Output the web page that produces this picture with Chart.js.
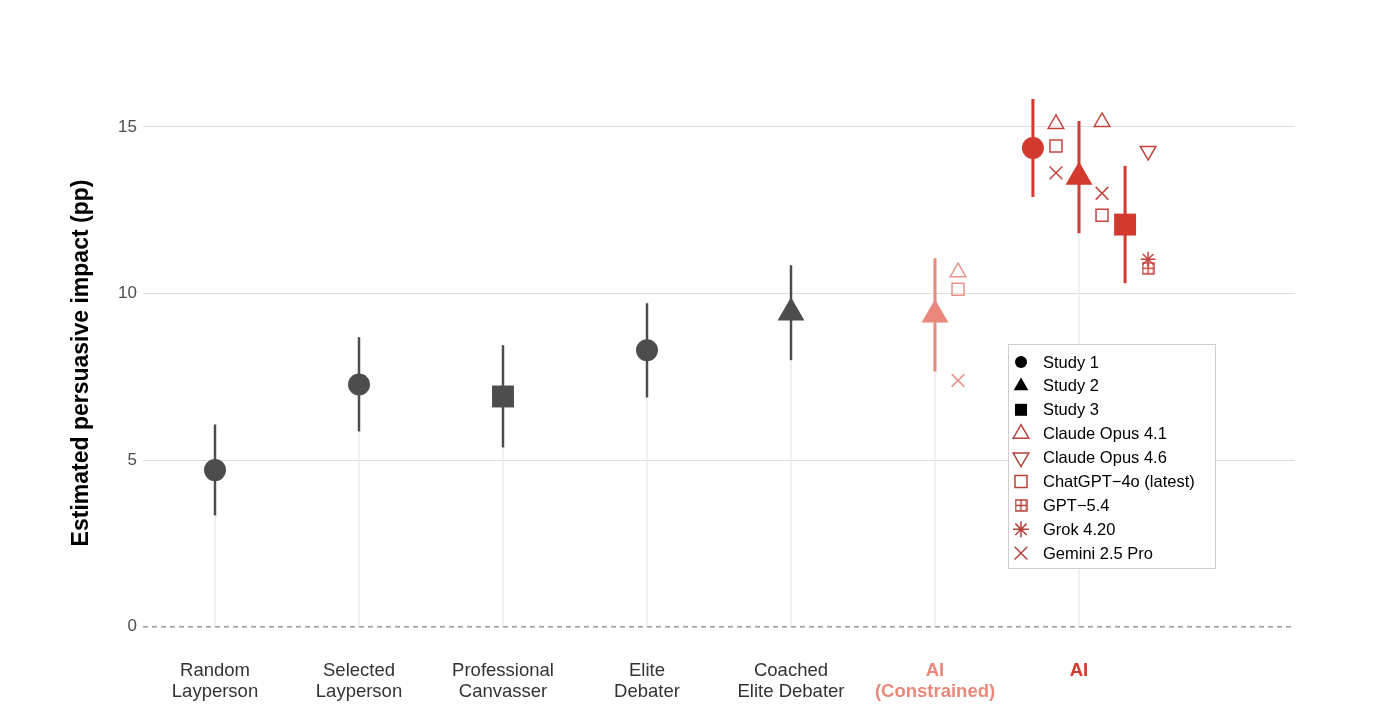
<!DOCTYPE html>
<html>
<head>
<meta charset="utf-8">
<script src="https://cdn.jsdelivr.net/npm/chart.js@4"></script>
<style>
  html, body { margin: 0; padding: 0; background: #fff; }
  #wrap { width: 1374px; height: 714px; }
</style>
</head>
<body>
<div id="wrap"><canvas id="myChart"></canvas></div>
<script>
// Categories on the x axis
const categories = [
  ["Random", "Layperson"],
  ["Selected", "Layperson"],
  ["Professional", "Canvasser"],
  ["Elite", "Debater"],
  ["Coached", "Elite Debater"],
  ["AI", "(Constrained)"],
  ["AI"],
];

// Pooled estimates (one per category / study)
const pointCat   = [1, 2, 3, 4, 5, 6, 7, 7, 7];
const pointStudy = [1, 1, 3, 1, 2, 2, 1, 2, 3];
const pointEst   = [4.70, 7.27, 6.91, 8.30, 9.42, 9.36, 14.37, 13.50, 12.07];
const pointLo    = [3.34, 5.86, 5.38, 6.88, 8.00, 7.66, 12.90, 11.81, 10.31];
const pointHi    = [6.07, 8.69, 8.45, 9.71, 10.85, 11.06, 15.84, 15.18, 13.83];
const stemTop    = [4.70, 7.27, 6.91, 8.30, 9.42, 9.36, 13.50];

// Model results per slot: [AI (Constrained) Study 2, AI Study 1, AI Study 2, AI Study 3]
const slotCat   = [6, 7, 7, 7];
const slotStudy = [2, 1, 2, 3];
const modelNames = ["Claude Opus 4.1", "Claude Opus 4.6", "ChatGPT−4o (latest)", "GPT−5.4", "Grok 4.20", "Gemini 2.5 Pro"];
const claudeOpus41 = [10.64, 15.09, 15.15, null];
const claudeOpus46 = [null, null, null, 14.28];
const chatGpt4o    = [10.13, 14.43, 12.35, null];
const gpt54        = [null, null, null, 10.76];
const grok420      = [null, null, null, 11.03];
const gemini25Pro  = [7.39, 13.62, 13.01, null];

const yTicks = [0, 5, 10, 15];

// ---- styling helpers ----
const FONT = "'Liberation Sans', Arial, Helvetica, sans-serif";
const GREY = "#4d4d4d";
const SALMON = "#e9887b";
const RED = "#d3392e";
const SIDE_RED = "#c4453e";
const SIDE_SALMON = "#e8938a";
const LEGEND_RED = "#b5403a";

const studyOffset = { 1: -0.32, 2: 0, 3: 0.32 };
const sideOffset = 0.16;
const xOf = (cat, study) => (cat === 7 ? cat + studyOffset[study] : cat);
const catColor = (cat) => (cat <= 5 ? GREY : cat === 6 ? SALMON : RED);
const studyStyle = { 1: "circle", 2: "triangle", 3: "rect" };
const studyRadius = { 1: 11, 2: 15.5, 3: 15.5 };

function boxedPlus(color, size) {
  const c = document.createElement("canvas");
  c.width = size; c.height = size;
  const g = c.getContext("2d");
  g.strokeStyle = color;
  g.lineWidth = 1.5;
  g.strokeRect(1, 1, size - 2, size - 2);
  g.beginPath();
  g.moveTo(size / 2, 1); g.lineTo(size / 2, size - 1);
  g.moveTo(1, size / 2); g.lineTo(size - 1, size / 2);
  g.stroke();
  return c;
}

const datasets = [];

// light stems from 0 to the estimate
categories.forEach((c, i) => {
  datasets.push({
    data: [{ x: i + 1, y: 0 }, { x: i + 1, y: stemTop[i] }],
    showLine: true, borderColor: "#ebebeb", borderWidth: 1.5,
    pointRadius: 0, order: 20,
  });
});

// dashed zero line
datasets.push({
  data: [{ x: 0.5, y: 0 }, { x: 8.5, y: 0 }],
  showLine: true, borderColor: "#9a9a9a", borderWidth: 1.5, borderDash: [5, 4],
  pointRadius: 0, order: 19,
});

// error bars
pointEst.forEach((e, i) => {
  const x = xOf(pointCat[i], pointStudy[i]);
  datasets.push({
    data: [{ x, y: pointLo[i] }, { x, y: pointHi[i] }],
    showLine: true, borderColor: catColor(pointCat[i]),
    borderWidth: pointCat[i] <= 5 ? 2.5 : 3,
    pointRadius: 0, order: 10,
  });
});

// pooled estimate markers
datasets.push({
  data: pointEst.map((e, i) => ({ x: xOf(pointCat[i], pointStudy[i]), y: e })),
  pointStyle: pointStudy.map((s) => studyStyle[s]),
  pointRadius: pointStudy.map((s) => studyRadius[s]),
  backgroundColor: pointCat.map(catColor),
  borderColor: pointCat.map(catColor),
  borderWidth: 0,
  showLine: false, order: 1,
});

// individual model markers
const models = [
  { vals: claudeOpus41, style: "triangle", r: 9, rot: 0 },
  { vals: claudeOpus46, style: "triangle", r: 9, rot: 180 },
  { vals: chatGpt4o, style: "rect", r: 8.5, rot: 0 },
  { vals: gpt54, style: boxedPlus(SIDE_RED, 13), r: 7, rot: 0 },
  { vals: grok420, style: "star", r: 7.5, rot: 0 },
  { vals: gemini25Pro, style: "crossRot", r: 9, rot: 0 },
];
models.forEach((m) => {
  const pts = [], cols = [];
  m.vals.forEach((v, s) => {
    if (v === null) return;
    pts.push({ x: xOf(slotCat[s], slotStudy[s]) + sideOffset, y: v });
    cols.push(slotCat[s] === 6 ? SIDE_SALMON : SIDE_RED);
  });
  datasets.push({
    data: pts, pointStyle: m.style, pointRadius: m.r, pointRotation: m.rot,
    backgroundColor: "rgba(0,0,0,0)", borderColor: cols, borderWidth: 1.5,
    showLine: false, order: 2,
  });
});

// legend drawn in the plot, boxed
const legendItems = [
  { text: "Study 1", style: "circle", r: 6, color: "#000", fill: true },
  { text: "Study 2", style: "triangle", r: 8.5, color: "#000", fill: true },
  { text: "Study 3", style: "rect", r: 8.5, color: "#000", fill: true },
  { text: modelNames[0], style: "triangle", r: 9, color: LEGEND_RED },
  { text: modelNames[1], style: "triangle", r: 9, rot: 180, color: LEGEND_RED },
  { text: modelNames[2], style: "rect", r: 8.5, color: LEGEND_RED },
  { text: modelNames[3], style: boxedPlus(LEGEND_RED, 13), r: 7, color: LEGEND_RED },
  { text: modelNames[4], style: "star", r: 8, color: LEGEND_RED },
  { text: modelNames[5], style: "crossRot", r: 9, color: LEGEND_RED },
];

const boxLegend = {
  id: "boxLegend",
  afterDraw(chart) {
    const ctx = chart.ctx;
    const x0 = 1008, y0 = 344, w = 207, h = 224;
    ctx.save();
    ctx.fillStyle = "#fff";
    ctx.fillRect(x0, y0, w, h);
    ctx.strokeStyle = "#cfcfcf";
    ctx.lineWidth = 1;
    ctx.strokeRect(x0 + 0.5, y0 + 0.5, w, h);
    legendItems.forEach((it, i) => {
      const y = y0 + 18 + i * 23.9;
      ctx.fillStyle = it.fill ? it.color : "rgba(0,0,0,0)";
      ctx.strokeStyle = it.color;
      ctx.lineWidth = 1.5;
      Chart.helpers.drawPoint(ctx, {
        pointStyle: it.style, radius: it.r, rotation: it.rot || 0,
        borderWidth: it.fill ? 0 : 1.5,
      }, x0 + 13, y);
      ctx.fillStyle = "#000";
      ctx.font = "16.5px " + FONT;
      ctx.textBaseline = "middle";
      ctx.textAlign = "left";
      ctx.fillText(it.text, x0 + 35, y + 1);
    });
    ctx.restore();
  },
};

new Chart(document.getElementById("myChart"), {
  type: "scatter",
  data: { datasets },
  plugins: [boxLegend],
  options: {
    responsive: true,
    maintainAspectRatio: false,
    animation: false,
    layout: { padding: { left: 0, top: 73, right: 79, bottom: 0 } },
    plugins: { legend: { display: false }, tooltip: { enabled: false } },
    elements: { line: { tension: 0 } },
    scales: {
      x: {
        type: "linear", min: 0.5, max: 8.5,
        afterBuildTicks: (s) => { s.ticks = categories.map((c, i) => ({ value: i + 1 })); },
        afterFit: (s) => { s.height = 61; },
        grid: { display: false },
        border: { display: false },
        ticks: {
          autoSkip: false, maxRotation: 0, padding: 0,
          callback: (v) => categories[v - 1],
          color: (ctx) => (ctx.index === 5 ? SALMON : ctx.index === 6 ? RED : "#333"),
          font: (ctx) => ({
            family: FONT, size: 18.5, lineHeight: 1.12,
            weight: ctx.index >= 5 ? "bold" : "normal",
          }),
        },
      },
      y: {
        min: -0.79, max: 16.62,
        afterBuildTicks: (s) => { s.ticks = yTicks.map((v) => ({ value: v })); },
        afterFit: (s) => { s.width = 143; },
        border: { display: false },
        grid: {
          drawTicks: false, lineWidth: 1,
          color: (ctx) => (ctx.tick && ctx.tick.value === 0 ? "rgba(0,0,0,0)" : "#dedede"),
        },
        ticks: { padding: 6, color: "#4d4d4d", font: { family: FONT, size: 17 } },
        title: {
          display: true, text: "Estimated persuasive impact (pp)", color: "#000",
          font: { family: FONT, size: 23, weight: "bold" },
          padding: { top: 68, bottom: 0 },
        },
      },
    },
  },
});
</script>
</body>
</html>
